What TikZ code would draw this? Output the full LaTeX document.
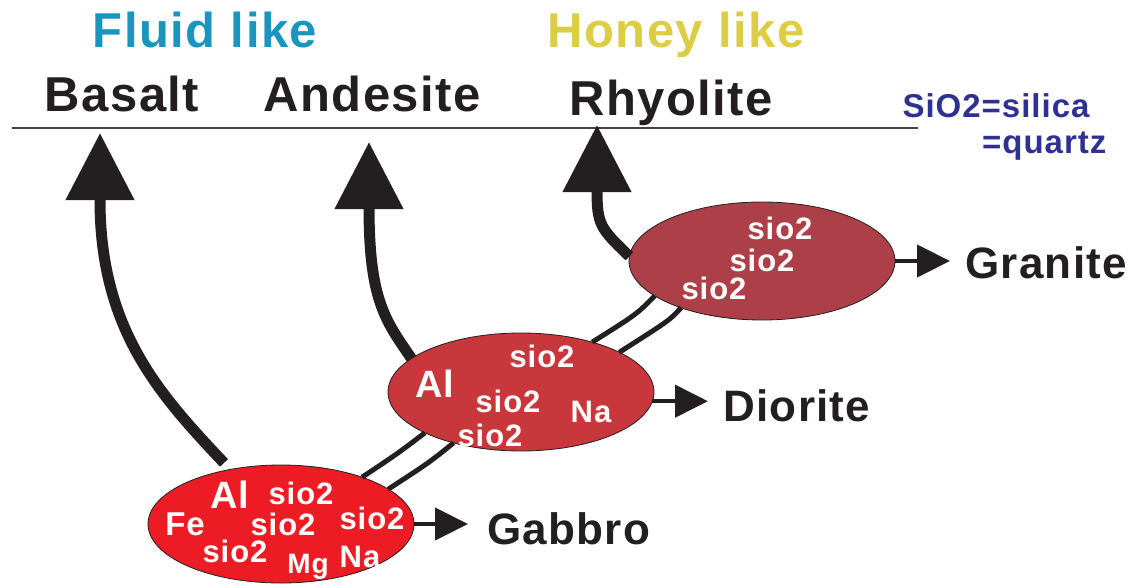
\documentclass[tikz,border=0pt]{standalone}
\usepackage{fontspec}
\setmainfont{Liberation Sans}[LetterSpace=3]
\usetikzlibrary{arrows.meta, shapes.geometric}

\definecolor{inkblack}{HTML}{231F20}
\definecolor{fluidblue}{HTML}{1A95BE}
\definecolor{honeygold}{HTML}{DCCD45}
\definecolor{silicanavy}{HTML}{2E3192}
\definecolor{gabbrored}{HTML}{ED1C24}
\definecolor{dioritered}{HTML}{C8373B}
\definecolor{granitered}{HTML}{AD3F48}

\begin{document}
\begin{tikzpicture}[x=1pt, y=-1pt,
  magma/.style={ellipse, draw=inkblack, line width=0.8pt, minimum width=266pt, minimum height=118pt, inner sep=0pt, outer sep=0pt},
  chem/.style={text=white, font=\bfseries\fontsize{31}{31}\selectfont, inner sep=0pt, anchor=base},
  rock/.style={text=inkblack, font=\bfseries\fontsize{44}{44}\selectfont, inner sep=0pt, anchor=base west},
  lava/.style={text=inkblack, font=\bfseries\fontsize{49}{49}\selectfont, inner sep=0pt, anchor=base},
  flow/.style={inkblack, line width=11pt, -{Triangle[length=67pt,width=66pt]}},
  cool/.style={inkblack, line width=4.5pt, -{Triangle[length=33pt,width=32pt]}},
  feed/.style={inkblack, line width=5pt},
]
\useasboundingbox (0,0) rectangle (1130,584);

% titles
\node[lava, text=fluidblue] (fluid) at (205,47) {Fluid like};
\node[lava, text=honeygold] (honey) at (676,47) {Honey like};

\node[lava] (basalt) at (122,111) {Basalt};
\node[lava] (andesite) at (372,111) {Andesite};
\node[lava] (rhyolite) at (671,115) {Rhyolite};

\draw[line width=1.2pt, inkblack!85] (12,128) -- (918,128);

\node[lava, text=silicanavy, font=\bfseries\fontsize{33}{33}\selectfont] (silica) at (996,117) {SiO2=silica};
\node[lava, text=silicanavy, font=\bfseries\fontsize{33}{33}\selectfont, anchor=base west] (quartz) at (982,153) {=quartz};

% magma bodies
\node[magma, fill=gabbrored] (gab) at (281,524) {};
\node[magma, fill=dioritered] (dio) at (521,392) {};
\node[magma, fill=granitered] (gra) at (762,261) {};

\node[chem, font=\bfseries\fontsize{38}{38}\selectfont] (g1) at (230,508) {Al};
\node[chem] (g2) at (301,504) {sio2};
\node[chem, font=\bfseries\fontsize{33}{33}\selectfont] (g3) at (185,535) {Fe};
\node[chem] (g4) at (283,535) {sio2};
\node[chem] (g5) at (372,529) {sio2};
\node[chem] (g6) at (235,562) {sio2};
\node[chem, font=\bfseries\fontsize{28}{28}\selectfont] (g7) at (308,573) {Mg};
\node[chem] (g8) at (360,567) {Na};

\node[chem] (d1) at (542,367) {sio2};
\node[chem, font=\bfseries\fontsize{38}{38}\selectfont] (d2) at (435,397) {Al};
\node[chem] (d3) at (508,412) {sio2};
\node[chem] (d4) at (591,422) {Na};
\node[chem] (d5) at (490,446) {sio2};

\node[chem] (r1) at (780,239) {sio2};
\node[chem] (r2) at (762,271) {sio2};
\node[chem] (r3) at (714,299) {sio2};

% feeders between chambers
\draw[feed] (gab.30) .. controls (397,454) .. (dio.203);
\draw[feed] (gab.18) .. controls (430,462) .. (dio.217);
\draw[feed] (dio.35) .. controls (637,314) .. (gra.198);
\draw[feed] (dio.22) .. controls (670,320) .. (gra.210);

% eruptions
\coordinate (basaltTip) at (100,133);
\coordinate (andesiteTip) at (369,142);
\coordinate (rhyoliteTip) at (597,125);

\draw[flow, shorten <=9pt] (gab.133) .. controls (160,395) and (100,330) .. (100,200) -- (basaltTip);
\draw[flow] (dio.163) .. controls (385,320) and (369,300) .. (369,206) -- (andesiteTip);
\draw[flow] (gra.178) .. controls (600,228) and (597,225) .. (597,189) -- (rhyoliteTip);

% cooled at depth
\node[rock] (gabbro) at (487,544) {Gabbro};
\node[rock] (diorite) at (723,421) {Diorite};
\node[rock] (granite) at (965,278) {Granite};

\draw[cool, shorten >=19pt] (gab.east) -- (gab.east -| gabbro.west);
\draw[cool, shorten >=15pt] (dio.-4) -- (dio.-4 -| diorite.west);
\draw[cool, shorten >=15pt] (gra.east) -- (gra.east -| granite.west);

\end{tikzpicture}
\end{document}
